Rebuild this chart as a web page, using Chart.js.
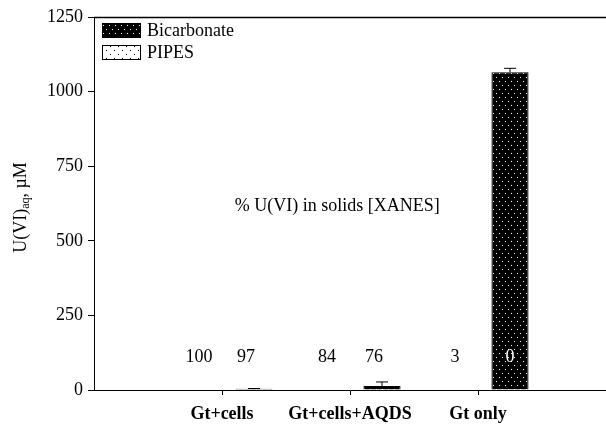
<!DOCTYPE html>
<html>
<head>
<meta charset="utf-8">
<script src="https://cdn.jsdelivr.net/npm/chart.js@4.4.1/dist/chart.umd.min.js"></script>
<style>
html, body { margin: 0; padding: 0; background: #fff; }
#wrap { width: 606px; height: 433px; position: relative; }
</style>
</head>
<body>
<div id="wrap"><canvas id="chart"></canvas></div>
<script>
const categories = ['Gt+cells', 'Gt+cells+AQDS', 'Gt only'];
const bicarbonate = [4, 13, 1065];
const bicarbonateErr = [1, 14, 13];
const pipes = [0, 0, 0];
const xanesPipes = [100, 84, 3];
const xanesBicarbonate = [97, 76, 0];
const yTicks = [0, 250, 500, 750, 1000, 1250];

const SERIF = '"Liberation Serif", "Times New Roman", serif';

// dotted fills like the scanned figure
function makePattern(bg, dot, w, h, dots) {
    const c = document.createElement('canvas');
    c.width = w;
    c.height = h;
    const g = c.getContext('2d');
    g.fillStyle = bg;
    g.fillRect(0, 0, w, h);
    g.fillStyle = dot;
    dots.forEach(d => g.fillRect(d[0], d[1], 1, 1));
    return g.createPattern(c, 'repeat');
}
const ctx = document.getElementById('chart').getContext('2d');
const darkFill = makePattern('#000', '#fff', 6, 8, [[1, 1], [4, 5]]);
const lightFill = makePattern('#fff', '#000', 8, 8, [[2, 2], [6, 6]]);

const extras = {
    id: 'extras',
    afterDatasetsDraw(chart) {
        const c = chart.ctx;
        const area = chart.chartArea;
        const y = chart.scales.y;
        const pipesMeta = chart.getDatasetMeta(0);
        const bicMeta = chart.getDatasetMeta(1);

        c.save();
        // frame line on top of plot
        c.strokeStyle = '#000';
        c.lineWidth = 1.5;
        c.beginPath();
        c.moveTo(area.left, area.top + 0.5);
        c.lineTo(area.right, area.top + 0.5);
        c.stroke();

        // error bars (plus only)
        c.lineWidth = 1;
        bicMeta.data.forEach((bar, i) => {
            const err = bicarbonateErr[i];
            if (!err) return;
            const top = y.getPixelForValue(bicarbonate[i] + err);
            c.beginPath();
            c.moveTo(bar.x, bar.y);
            c.lineTo(bar.x, top);
            c.moveTo(bar.x - 6, top);
            c.lineTo(bar.x + 6, top);
            c.stroke();
        });

        // legend
        const items = [['Bicarbonate', darkFill], ['PIPES', lightFill]];
        c.font = '18px ' + SERIF;
        c.textAlign = 'left';
        c.textBaseline = 'middle';
        items.forEach((it, i) => {
            const bx = area.left + 8, by = area.top + 6 + i * 22;
            c.fillStyle = it[1];
            c.fillRect(bx, by, 39, 15);
            c.strokeStyle = '#000';
            c.lineWidth = 1;
            c.strokeRect(bx + 0.5, by + 0.5, 38, 14);
            c.fillStyle = '#000';
            c.fillText(it[0], bx + 45, by + 8);
        });

        // XANES annotation
        c.textAlign = 'center';
        c.fillText('% U(VI) in solids [XANES]', chart.scales.x.getPixelForValue(1.9), y.getPixelForValue(615));
        const ly = y.getPixelForValue(110);
        pipesMeta.data.forEach((bar, i) => {
            c.fillStyle = '#000';
            c.fillText(String(xanesPipes[i]), bar.x + 9, ly);
        });
        bicMeta.data.forEach((bar, i) => {
            const inside = bicarbonate[i] > 150;
            c.fillStyle = inside ? '#fff' : '#000';
            c.fillText(String(xanesBicarbonate[i]), inside ? bar.x : bar.x - 8, ly);
        });

        // y title with subscript
        c.translate(21, (area.top + area.bottom) / 2 + 4);
        c.rotate(-Math.PI / 2);
        c.textAlign = 'left';
        const p1 = 'U(VI)', p2 = 'aq', p3 = ', \u00b5M';
        c.font = '18px ' + SERIF;
        const w1 = c.measureText(p1).width;
        const w3 = c.measureText(p3).width;
        c.font = '12px ' + SERIF;
        const w2 = c.measureText(p2).width;
        const x0 = -(w1 + w2 + w3) / 2;
        c.fillStyle = '#000';
        c.font = '18px ' + SERIF;
        c.fillText(p1, x0, 0);
        c.font = '12px ' + SERIF;
        c.fillText(p2, x0 + w1, 5);
        c.font = '18px ' + SERIF;
        c.fillText(p3, x0 + w1 + w2, 0);
        c.restore();
    }
};

new Chart(ctx, {
    type: 'bar',
    data: {
        datasets: [{
            label: 'PIPES',
            data: pipes.map((v, i) => ({ x: i + 1, y: v })),
            backgroundColor: lightFill,
            borderColor: '#000',
            borderWidth: 1
        }, {
            label: 'Bicarbonate',
            data: bicarbonate.map((v, i) => ({ x: i + 1, y: v })),
            backgroundColor: darkFill,
            borderColor: '#000',
            borderWidth: 1
        }]
    },
    options: {
        responsive: true,
        maintainAspectRatio: false,
        animation: false,
        categoryPercentage: 1.0,
        barPercentage: 0.58,
        layout: { padding: { top: 17, right: 0, left: 0, bottom: 0 } },
        plugins: {
            tooltip: { enabled: false },
            legend: { display: false }
        },
        scales: {
            x: {
                type: 'linear',
                min: 0,
                max: 4,
                offset: false,
                afterFit: s => { s.height = 43; s.paddingRight = 0; },
                ticks: {
                    stepSize: 1,
                    autoSkip: false,
                    maxRotation: 0,
                    padding: 9,
                    color: '#000',
                    font: { family: SERIF, size: 18, weight: 'bold' },
                    callback: v => categories[v - 1] || ''
                },
                grid: {
                    offset: false,
                    drawOnChartArea: false,
                    tickLength: 5,
                    tickColor: c => (c.tick && (c.tick.value === 0 || c.tick.value === 4)) ? 'rgba(0,0,0,0)' : '#000'
                },
                border: { color: '#000', width: 1 }
            },
            y: {
                min: 0,
                max: 1250,
                afterFit: s => { s.width = 94; },
                afterBuildTicks: s => { s.ticks = yTicks.map(v => ({ value: v })); },
                ticks: {
                    padding: 5,
                    color: '#000',
                    font: { family: SERIF, size: 18 },
                    callback: v => String(v)
                },
                grid: {
                    drawOnChartArea: false,
                    tickLength: 6,
                    tickColor: '#000'
                },
                border: { color: '#000', width: 1 }
            }
        }
    },
    plugins: [extras]
});
</script>
</body>
</html>
